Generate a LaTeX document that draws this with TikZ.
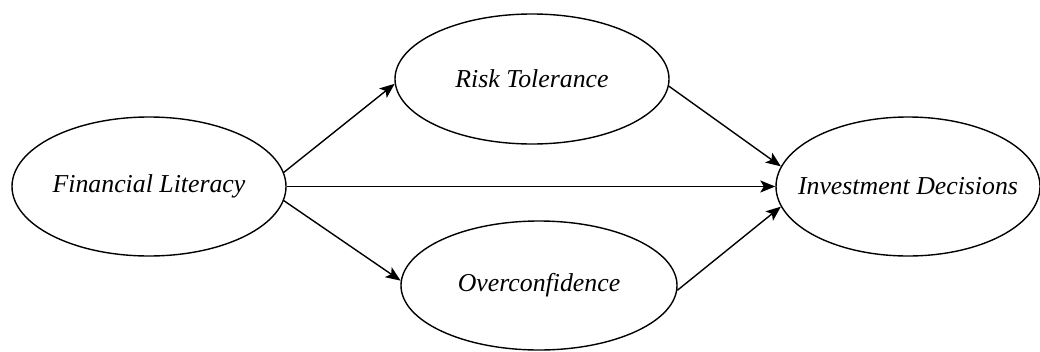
\documentclass[tikz,border=0pt]{standalone}
\usepackage{fontspec}
\setmainfont{Liberation Serif}
\usetikzlibrary{shapes.geometric,arrows.meta}
\tikzset{
  construct/.style={ellipse, draw=black, line width=1.4pt, inner sep=0pt,
    font=\fontsize{25.8}{30}\selectfont\itshape},
  path/.style={draw=black, line width=1.4pt, -{Stealth[length=15pt,width=12pt,inset=3.5pt]}}
}
\begin{document}
\begin{tikzpicture}[x=1pt,y=-1pt]
\useasboundingbox (0,0) rectangle (1040,351);
\node[construct, minimum width=274pt, minimum height=139pt] (FL) at (149,186.5) {\makebox[0pt]{Financial Literacy}};
\node[construct, minimum width=274pt, minimum height=130pt] (RT) at (532,79) {\makebox[0pt]{Risk Tolerance}};
\node[construct, minimum width=276pt, minimum height=129pt] (OC) at (539,285.5) {\makebox[0pt]{Overconfidence}};
\node[construct, minimum width=264pt, minimum height=139pt] (ID) at (908,186.5) {\makebox[0pt]{Investment Decisions}};
\draw[path] (FL.6) -- (RT.182);
\draw[path] (FL.0) -- (ID.180);
\draw[path] (FL.-6) -- (OC.178);
\draw[path] (RT.-3) -- (ID.171);
\draw[path] (OC.-2) -- (ID.189);
\end{tikzpicture}
\end{document}
